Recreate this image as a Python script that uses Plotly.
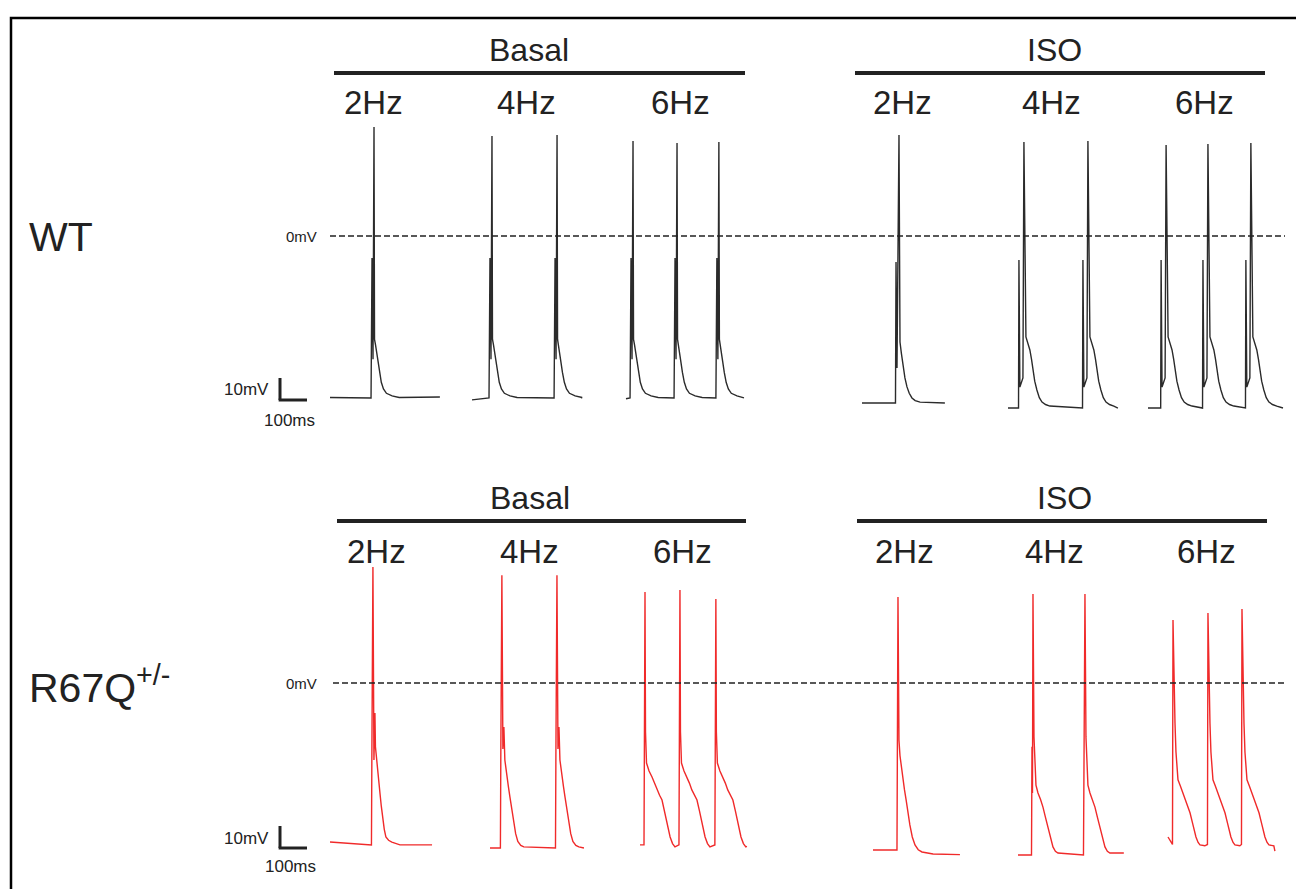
import plotly.graph_objects as go

# ------------------------------------------------------------------
# DATA  (time in ms, membrane potential in mV)
# Each beat template: time relative to the stimulus artifact (ms) and mV;
# None marks the artifact peak, whose value is given per beat in *_tops.
# ------------------------------------------------------------------
rows = ["WT", "R67Q<sup>+/-</sup>"]
conditions = ["Basal", "ISO"]
frequencies = ["2Hz", "4Hz", "6Hz"]
scale_mv = 10
scale_ms = 100

# --- WT ---
wt_basal_beat_t = [-11, -7.4, -3.7, 0, 1.9, 5.6, 9, 14, 20, 27, 35, 46, 67, 93]
wt_basal_beat_v = [-73.6, -10, -56, None, -47, -49.5, -52.5, -57, -62, -66.5, -69.5, -71.5, -72.7, -73.4]

wt_basal_2hz_beats = [163]
wt_basal_2hz_tops = [49.5]
wt_basal_2hz_start = -73.4
wt_basal_2hz_end = (407, -73.2)

wt_basal_4hz_beats = [74, 315]
wt_basal_4hz_tops = [45.5, 45.9]
wt_basal_4hz_start = -74.5
wt_basal_4hz_end = (403, -73.6)

wt_basal_6hz_beats = [26, 189, 344]
wt_basal_6hz_tops = [43.2, 42.3, 42.7]
wt_basal_6hz_start = -74.0
wt_basal_6hz_end = (437, -73.6)

wt_iso2_beat_t = [-13, -11, -7.4, 0, 3.7, 9, 14.8, 22, 29.6, 38, 48, 60, 78]
wt_iso2_beat_v = [-75.9, -11.8, -60, None, -48.2, -53.5, -59.5, -64.5, -68.6, -71.5, -73.6, -74.8, -75.5]

wt_iso_2hz_beats = [137]
wt_iso_2hz_tops = [45.9]
wt_iso_2hz_start = -75.9
wt_iso_2hz_end = (307, -75.9)

wt_iso_beat_t = [-20, -18.5, -15, -3.7, 0, 7.4, 15, 22, 28, 33, 40, 48, 57, 67, 80, 96]
wt_iso_beat_v = [-78.2, -10.9, -68.6, -64.5, None, -45.9, -48.5, -51.8, -56, -61, -66, -70, -73.5, -75.5, -76.6, -77.3]

wt_iso_4hz_beats = [59, 296]
wt_iso_4hz_tops = [42.7, 43.2]
wt_iso_4hz_start = -78.2
wt_iso_4hz_end = (407, -78.2)

wt_iso_6hz_beats = [67, 222, 381]
wt_iso_6hz_tops = [41.4, 41.8, 42.3]
wt_iso_6hz_start = -78.2
wt_iso_6hz_end = (500, -78.2)

# --- R67Q+/- ---
mut_basal2_beat_t = [-5.5, -3.7, 0, 3.7, 7.4, 9.3, 14, 18.5, 22, 26, 31, 37, 42, 48, 58, 70, 100]
mut_basal2_beat_v = [-73.6, -27.3, None, -35, -13.6, -29, -36, -41, -45, -50, -56, -62, -66.5, -70, -71.5, -72.3, -73.6]
mut_basal_2hz_beats = [159]
mut_basal_2hz_tops = [52.7]
mut_basal_2hz_start = -72.3
mut_basal_2hz_end = (378, -73.6)

mut_basal4_beat_t = [-5.5, -3.7, 0, 3.7, 7.4, 11, 18.5, 24, 30, 37, 44, 51, 59, 70, 81]
mut_basal4_beat_v = [-75, -27, None, -30, -20, -35, -43, -47, -52, -58, -64, -68.5, -72, -73.8, -74.5]
mut_basal_4hz_beats = [44, 248]
mut_basal_4hz_tops = [49, 49]
mut_basal_4hz_start = -75.0
mut_basal_4hz_end = (348, -75.0)

mut_basal6_beat_t = [-3.7, 0, 1.9, 5.6, 15, 26, 35, 44, 54, 63, 72, 81, 87, 93, 102, 111]
mut_basal6_beat_v = [-73.6, None, -22.3, -36.4, -40, -42.7, -45.5, -48.6, -51, -53.2, -58, -63.6, -67, -70, -73, -74.5]
mut_basal_6hz_beats = [18.5, 148, 281]
mut_basal_6hz_tops = [41.4, 42.3, 38.2]
mut_basal_6hz_start = -73.6
mut_basal_6hz_end = (396, -74.3)

mut_iso2_beat_t = [-3.7, 0, 3.7, 7.4, 13, 18.5, 24, 30, 37, 44, 53, 63, 75, 89, 130]
mut_iso2_beat_v = [-75.9, None, -26, -33, -39, -44, -48.5, -53, -59, -64.5, -70, -73.6, -75.8, -76.8, -77.7]
mut_iso_2hz_beats = [92.5]
mut_iso_2hz_tops = [39.1]
mut_iso_2hz_start = -75.9
mut_iso_2hz_end = (322, -78.0)

mut_iso4_beat_t = [-5.5, -3.7, -1.9, 0, 3.7, 11, 18.5, 28, 37, 46, 55.5, 65, 74, 83, 92.5]
mut_iso4_beat_v = [-78.2, -29, -50, None, -24.5, -46.4, -50, -53, -56.4, -61, -65.5, -70.5, -74.5, -76.5, -77.3]
mut_iso_4hz_beats = [55.5, 248]
mut_iso_4hz_tops = [40.5, 40.5]
mut_iso_4hz_start = -78.2
mut_iso_4hz_end = (392, -77.3)

mut_iso6_beat_t = [-1.9, 0, 3.7, 7.4, 11, 18.5, 28, 37, 50, 63, 74, 85, 93, 100, 118]
mut_iso6_beat_v = [-73.4, None, -4.5, -18.2, -31.4, -44, -47, -50, -54.5, -59, -64.5, -70, -72.5, -73.6, -74]
mut_iso_6hz_beats = [18.5, 148, 274]
mut_iso_6hz_tops = [28.6, 31.8, 33.6]
mut_iso_6hz_start = -70.0
mut_iso_6hz_end = (396, -76.4)

# ------------------------------------------------------------------
# LAYOUT / STYLE
# ------------------------------------------------------------------
W, H = 1296, 889
PX_PER_MS = 0.27          # horizontal scale  (100 ms = 27 px)
FONT = "Liberation Sans, Arial, sans-serif"
WT_COLOR = "#2b2b2b"
MUT_COLOR = "#f02a2a"


def build(start_v, beats, tops, tt, tv, end):
    xs, ys = [0], [start_v]
    for b, top in zip(beats, tops):
        for t, v in zip(tt, tv):
            xs.append(b + t)
            ys.append(top if v is None else v)
    xs.append(end[0])
    ys.append(end[1])
    return xs, ys


panels = [
    ("y", WT_COLOR, 330, build(wt_basal_2hz_start, wt_basal_2hz_beats, wt_basal_2hz_tops, wt_basal_beat_t, wt_basal_beat_v, wt_basal_2hz_end)),
    ("y", WT_COLOR, 472, build(wt_basal_4hz_start, wt_basal_4hz_beats, wt_basal_4hz_tops, wt_basal_beat_t, wt_basal_beat_v, wt_basal_4hz_end)),
    ("y", WT_COLOR, 626, build(wt_basal_6hz_start, wt_basal_6hz_beats, wt_basal_6hz_tops, wt_basal_beat_t, wt_basal_beat_v, wt_basal_6hz_end)),
    ("y", WT_COLOR, 862, build(wt_iso_2hz_start, wt_iso_2hz_beats, wt_iso_2hz_tops, wt_iso2_beat_t, wt_iso2_beat_v, wt_iso_2hz_end)),
    ("y", WT_COLOR, 1008, build(wt_iso_4hz_start, wt_iso_4hz_beats, wt_iso_4hz_tops, wt_iso_beat_t, wt_iso_beat_v, wt_iso_4hz_end)),
    ("y", WT_COLOR, 1148, build(wt_iso_6hz_start, wt_iso_6hz_beats, wt_iso_6hz_tops, wt_iso_beat_t, wt_iso_beat_v, wt_iso_6hz_end)),
    ("y2", MUT_COLOR, 330, build(mut_basal_2hz_start, mut_basal_2hz_beats, mut_basal_2hz_tops, mut_basal2_beat_t, mut_basal2_beat_v, mut_basal_2hz_end)),
    ("y2", MUT_COLOR, 490, build(mut_basal_4hz_start, mut_basal_4hz_beats, mut_basal_4hz_tops, mut_basal4_beat_t, mut_basal4_beat_v, mut_basal_4hz_end)),
    ("y2", MUT_COLOR, 640, build(mut_basal_6hz_start, mut_basal_6hz_beats, mut_basal_6hz_tops, mut_basal6_beat_t, mut_basal6_beat_v, mut_basal_6hz_end)),
    ("y2", MUT_COLOR, 873, build(mut_iso_2hz_start, mut_iso_2hz_beats, mut_iso_2hz_tops, mut_iso2_beat_t, mut_iso2_beat_v, mut_iso_2hz_end)),
    ("y2", MUT_COLOR, 1018, build(mut_iso_4hz_start, mut_iso_4hz_beats, mut_iso_4hz_tops, mut_iso4_beat_t, mut_iso4_beat_v, mut_iso_4hz_end)),
    ("y2", MUT_COLOR, 1168, build(mut_iso_6hz_start, mut_iso_6hz_beats, mut_iso_6hz_tops, mut_iso6_beat_t, mut_iso6_beat_v, mut_iso_6hz_end)),
]

fig = go.Figure()
for axis, color, xpx, (xs, ys) in panels:
    off = xpx / PX_PER_MS
    fig.add_trace(go.Scatter(
        x=[off + x for x in xs], y=ys, mode="lines", yaxis=axis,
        line=dict(color=color, width=1.4), hoverinfo="skip", showlegend=False))


def px(x):
    return x / W


def py(y):
    return 1 - y / H


shapes = []
annotations = []

# border
shapes.append(dict(type="rect", xref="paper", yref="paper", x0=px(11), x1=1.01,
                   y0=-0.01, y1=py(18), line=dict(color="black", width=2.5)))

row_cfg = [
    dict(axis="y", zero=236, head=50, bar=73, hz=103, basal=(334, 745), iso=(855, 1265),
         bcx=529, icx=1054, hzx=[373, 526, 681, 902, 1051, 1204], sc_x=280, sc_v=-74.5,
         mv_lab=(246, 389), ms_lab=(289, 420), dash=(330, 1285), lab_y=237),
    dict(axis="y2", zero=683, head=498, bar=521, hz=551, basal=(337, 746), iso=(857, 1267),
         bcx=530, icx=1064, hzx=[376, 529, 683, 904, 1054, 1206], sc_x=280, sc_v=-75.0,
         mv_lab=(246, 838), ms_lab=(290, 866), dash=(333, 1285), lab_y=685),
]

for r, cfg in zip(rows, row_cfg):
    shapes.append(dict(type="line", xref="x", yref=cfg["axis"],
                       x0=cfg["dash"][0] / PX_PER_MS, x1=cfg["dash"][1] / PX_PER_MS, y0=0, y1=0,
                       line=dict(color="#222", width=1.4, dash="6px,3px")))
    sx = cfg["sc_x"] / PX_PER_MS
    shapes.append(dict(type="line", xref="x", yref=cfg["axis"], x0=sx, x1=sx,
                       y0=cfg["sc_v"], y1=cfg["sc_v"] + scale_mv, line=dict(color="#222", width=3)))
    shapes.append(dict(type="line", xref="x", yref=cfg["axis"], x0=sx - 5, x1=sx + scale_ms,
                       y0=cfg["sc_v"], y1=cfg["sc_v"], line=dict(color="#222", width=3)))
    for (a, b) in (cfg["basal"], cfg["iso"]):
        shapes.append(dict(type="line", xref="paper", yref="paper", x0=px(a), x1=px(b),
                           y0=py(cfg["bar"]), y1=py(cfg["bar"]), line=dict(color="#222", width=4)))
    for txt, cx in zip(conditions, (cfg["bcx"], cfg["icx"])):
        annotations.append(dict(text=txt, xref="paper", yref="paper", x=px(cx), y=py(cfg["head"]),
                                showarrow=False, xanchor="center", yanchor="middle",
                                font=dict(family=FONT, size=32, color="#222")))
    for i, cx in enumerate(cfg["hzx"]):
        annotations.append(dict(text=frequencies[i % 3], xref="paper", yref="paper", x=px(cx),
                                y=py(cfg["hz"]), showarrow=False, xanchor="center", yanchor="middle",
                                font=dict(family=FONT, size=33, color="#222")))
    annotations.append(dict(text="0mV", xref="paper", yref="paper", x=px(319), y=py(cfg["zero"]),
                            showarrow=False, xanchor="right", yanchor="middle",
                            font=dict(family=FONT, size=15, color="#222")))
    annotations.append(dict(text=f"{scale_mv}mV", xref="paper", yref="paper", x=px(cfg["mv_lab"][0]),
                            y=py(cfg["mv_lab"][1]), showarrow=False, xanchor="center", yanchor="middle",
                            font=dict(family=FONT, size=17, color="#222")))
    annotations.append(dict(text=f"{scale_ms}ms", xref="paper", yref="paper", x=px(cfg["ms_lab"][0]),
                            y=py(cfg["ms_lab"][1]), showarrow=False, xanchor="center", yanchor="middle",
                            font=dict(family=FONT, size=17, color="#222")))
    annotations.append(dict(text=r, xref="paper", yref="paper", x=px(27), y=py(cfg["lab_y"]),
                            showarrow=False, xanchor="left", yanchor="middle",
                            font=dict(family=FONT, size=41, color="#222")))

MV_PER_HALF = (H / 2) / 2.2
top1 = 236 / 2.2
top2 = (683 - H / 2) / 2.2

fig.update_layout(
    width=W, height=H,
    margin=dict(l=0, r=0, t=0, b=0),
    paper_bgcolor="white", plot_bgcolor="white",
    xaxis=dict(range=[0, W / PX_PER_MS], visible=False, fixedrange=True),
    yaxis=dict(domain=[0.5, 1], range=[top1 - MV_PER_HALF, top1], visible=False, fixedrange=True),
    yaxis2=dict(domain=[0, 0.5], range=[top2 - MV_PER_HALF, top2], visible=False, fixedrange=True, anchor="x"),
    shapes=shapes, annotations=annotations, showlegend=False,
)

fig.write_html("out.html", post_script="document.body.style.margin='0px';",
               config={"displayModeBar": False})
